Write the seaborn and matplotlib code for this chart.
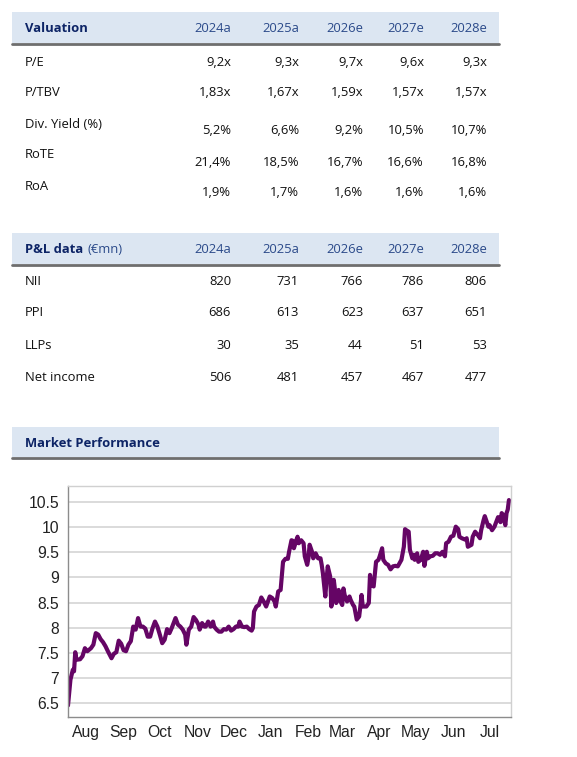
import pandas as pd
import matplotlib
matplotlib.use("Agg")
import matplotlib.pyplot as plt
import matplotlib.dates as mdates
from matplotlib.patches import Rectangle
from matplotlib.lines import Line2D
from matplotlib.ticker import MultipleLocator, NullFormatter, FuncFormatter
import seaborn as sns

# --- table data ---
YEARS = ["2024a", "2025a", "2026e", "2027e", "2028e"]

VAL_LABELS = ["P/E", "P/TBV", "Div. Yield (%)", "RoTE", "RoA"]
PE = [9.2, 9.3, 9.7, 9.6, 9.3]
P_TBV = [1.83, 1.67, 1.59, 1.57, 1.57]
DIV_YIELD = [5.2, 6.6, 9.2, 10.5, 10.7]
ROTE = [21.4, 18.5, 16.7, 16.6, 16.8]
ROA = [1.9, 1.7, 1.6, 1.6, 1.6]

PNL_LABELS = ["NII", "PPI", "LLPs", "Net income"]
NII = [820, 731, 766, 786, 806]
PPI = [686, 613, 623, 637, 651]
LLPS = [30, 35, 44, 51, 53]
NET_INCOME = [506, 481, 457, 467, 477]

# --- share price, day number since 1 Aug 2025 ---
START = "2025-08-01"
PRICE_DAY = [
    0, 2, 4, 5, 6, 7, 10, 12, 14, 16, 19, 21, 23, 25, 27, 29, 31, 33, 36, 38,
    40, 42, 44, 46, 48, 50, 52, 54, 56, 58, 60, 62, 64, 66, 68, 70, 72, 74, 76, 78,
    80, 82, 84, 86, 89, 91, 93, 95, 97, 98, 100, 102, 104, 106, 108, 109, 111, 113, 114, 116,
    118, 120, 121, 123, 125, 127, 129, 131, 133, 135, 137, 139, 141, 142, 144, 146, 148, 150, 152, 153,
    154, 156, 158, 160, 162, 164, 167, 169, 171, 172, 174, 176, 177, 178, 180, 182, 183, 185, 186, 187,
    189, 190, 191, 193, 195, 196, 198, 199, 200, 202, 203, 205, 207, 209, 210, 211, 213, 214, 215, 217,
    218, 220, 221, 222, 224, 225, 227, 228, 229, 231, 233, 234, 236, 237, 239, 241, 242, 243, 244, 247,
    249, 250, 251, 253, 255, 257, 258, 260, 261, 263, 265, 267, 269, 271, 273, 276, 278, 279, 280, 282,
    283, 285, 286, 287, 289, 290, 292, 294, 295, 297, 298, 300, 302, 304, 306, 308, 310, 312, 313, 315,
    317, 319, 321, 323, 324, 326, 329, 330, 331, 334, 335, 337, 339, 341, 342, 344, 345, 347, 348, 349,
    351, 353, 355, 356, 358, 359, 360, 362, 363, 364, 365,
]
PRICE = [
    6.45, 6.96, 7.16, 7.13, 7.51, 7.36, 7.37, 7.43, 7.59, 7.53, 7.59, 7.66, 7.89, 7.86, 7.77, 7.71, 7.63, 7.53, 7.39, 7.48,
    7.51, 7.74, 7.68, 7.55, 7.53, 7.66, 7.73, 8.02, 7.96, 8.19, 8.02, 8.02, 7.98, 7.82, 7.82, 7.99, 8.12, 8.02, 7.86, 7.69,
    7.76, 7.97, 7.89, 8.00, 8.19, 8.06, 8.02, 7.96, 7.86, 7.66, 7.96, 8.02, 8.21, 8.15, 8.06, 7.96, 8.09, 8.02, 8.02, 8.12,
    8.02, 8.12, 8.02, 7.96, 7.92, 7.92, 7.97, 7.96, 8.02, 7.94, 7.97, 8.02, 8.02, 8.12, 8.02, 8.01, 8.02, 7.97, 7.94, 7.99,
    8.32, 8.42, 8.45, 8.60, 8.52, 8.42, 8.62, 8.59, 8.52, 8.42, 8.72, 8.75, 9.02, 9.31, 9.37, 9.37, 9.51, 9.74, 9.73, 9.58,
    9.74, 9.81, 9.68, 9.74, 9.68, 9.42, 9.25, 9.38, 9.65, 9.51, 9.38, 9.48, 9.38, 9.38, 9.25, 9.08, 8.62, 8.95, 9.22, 9.02,
    8.42, 8.95, 8.75, 8.49, 8.75, 8.55, 8.45, 8.78, 8.65, 8.52, 8.62, 8.55, 8.45, 8.42, 8.16, 8.22, 8.42, 8.65, 8.42, 8.42,
    8.49, 9.05, 8.85, 8.82, 9.31, 9.35, 9.42, 9.58, 9.35, 9.28, 9.25, 9.16, 9.22, 9.23, 9.22, 9.35, 9.61, 9.96, 9.94, 9.91,
    9.55, 9.38, 9.45, 9.35, 9.48, 9.31, 9.35, 9.51, 9.23, 9.51, 9.38, 9.42, 9.43, 9.48, 9.48, 9.45, 9.51, 9.42, 9.68, 9.71,
    9.81, 9.83, 10.01, 9.96, 9.81, 9.78, 9.75, 9.78, 9.61, 9.65, 9.81, 9.91, 9.85, 9.78, 9.94, 10.14, 10.22, 10.08, 10.01, 10.04,
    9.94, 10.01, 10.14, 10.20, 10.10, 10.28, 10.25, 10.04, 10.28, 10.35, 10.54,
]

# --- style ---
W, H = 577, 757
BAND = "#dce6f2"
RULE = "#6e6e6e"
NAVY = "#0d2466"
YEAR_BLUE = "#2b4a8a"
TEXT = "#111111"
PURPLE = "#650565"

sns.set_style("white")
plt.rcParams["font.family"] = ["Open Sans", "DejaVu Sans"]


def fx(x):
    return x / W


def fy(y):
    return 1 - y / H


def header_band(fig, top, bottom):
    fig.add_artist(Rectangle((fx(12), fy(bottom)), fx(499) - fx(12), (bottom - top) / H,
                             transform=fig.transFigure, color=BAND, lw=0, zorder=0))
    fig.add_artist(Line2D([fx(12), fx(499)], [fy(bottom + 1)] * 2,
                          transform=fig.transFigure, color=RULE, lw=2.0))


def comma(s):
    return s.replace(".", ",")


fig = plt.figure(figsize=(W / 100, H / 100), dpi=100)
col_right = [231, 299, 363, 424, 487]
fs = 9.4

# Valuation table
header_band(fig, 12, 43)
fig.text(fx(25), fy(29), "Valuation", fontsize=fs, fontweight="bold", color=NAVY, va="center")
for xr, yr in zip(col_right, YEARS):
    fig.text(fx(xr), fy(29), yr, fontsize=fs, color=YEAR_BLUE, ha="right", va="center")

val_cells = [
    [comma(f"{v:.1f}x") for v in PE],
    [comma(f"{v:.2f}x") for v in P_TBV],
    [comma(f"{v:.1f}%") for v in DIV_YIELD],
    [comma(f"{v:.1f}%") for v in ROTE],
    [comma(f"{v:.1f}%") for v in ROA],
]
label_y = [62, 93, 124, 155, 187]
value_y = [62, 93, 130, 162, 193]
for lab, ly, vy, cells in zip(VAL_LABELS, label_y, value_y, val_cells):
    fig.text(fx(25), fy(ly), lab, fontsize=fs, color=TEXT, va="center")
    for xr, c in zip(col_right, cells):
        fig.text(fx(xr), fy(vy), c, fontsize=fs, color=TEXT, ha="right", va="center")

# P&L table
header_band(fig, 233, 264)
t = fig.text(fx(25), fy(249), "P&L data", fontsize=fs, fontweight="bold", color=NAVY, va="center")
for xr, yr in zip(col_right, YEARS):
    fig.text(fx(xr), fy(249), yr, fontsize=fs, color=YEAR_BLUE, ha="right", va="center")

pnl_cells = [NII, PPI, LLPS, NET_INCOME]
pnl_y = [282, 313, 345, 378]
for lab, ry, cells in zip(PNL_LABELS, pnl_y, pnl_cells):
    fig.text(fx(25), fy(ry), lab, fontsize=fs, color=TEXT, va="center")
    for xr, c in zip(col_right, cells):
        fig.text(fx(xr), fy(ry), f"{c}", fontsize=fs, color=TEXT, ha="right", va="center")

# Market performance
header_band(fig, 427, 457)
fig.text(fx(25), fy(443), "Market Performance", fontsize=fs, fontweight="bold", color=NAVY, va="center")

ax = fig.add_axes([fx(68), fy(717), fx(511) - fx(68), (717 - 486) / H])
ax.annotate("(€mn)", xy=(1, 0), xycoords=t, xytext=(3, 0), textcoords="offset points",
            fontsize=fs, color=YEAR_BLUE, va="bottom", annotation_clip=False)

start = pd.Timestamp(START)
df = pd.DataFrame({
    "date": start + pd.to_timedelta(PRICE_DAY, unit="D"),
    "price": PRICE,
})
sns.lineplot(data=df, x="date", y="price", ax=ax, color=PURPLE, linewidth=3.0)

ax.set_xlim(start, start + pd.Timedelta(days=366.7))
ax.set_ylim(6.22, 10.82)
ax.set_xlabel("")
ax.set_ylabel("")

ax.xaxis.set_major_locator(mdates.MonthLocator())
ax.xaxis.set_major_formatter(NullFormatter())
ax.xaxis.set_minor_locator(mdates.MonthLocator(bymonthday=16))
ax.xaxis.set_minor_formatter(mdates.DateFormatter("%b"))
ax.yaxis.set_major_locator(MultipleLocator(0.5))
ax.yaxis.set_minor_locator(MultipleLocator(0.1))
ax.yaxis.set_major_formatter(FuncFormatter(lambda v, p: f"{v:g}"))

tick_font = ["Liberation Sans", "DejaVu Sans"]
for lab in ax.get_yticklabels() + ax.get_xticklabels(minor=True):
    lab.set_family(tick_font)

ax.tick_params(axis="y", which="major", direction="out", length=5, width=1, color="#8c8c8c",
               pad=1.5, labelsize=11.3, labelcolor="#222222")
ax.tick_params(axis="y", which="minor", direction="out", length=2.5, width=0.8, color="#8c8c8c")
ax.tick_params(axis="x", which="major", direction="out", length=5, width=1, color="#8c8c8c")
ax.tick_params(axis="x", which="minor", length=0, pad=6, labelsize=11.3, labelcolor="#222222")

ax.grid(axis="y", which="major", color="#d4d4d4", lw=1.2)
ax.grid(axis="x", visible=False)
ax.set_axisbelow(True)
for side in ["left", "bottom"]:
    ax.spines[side].set_color("#8c8c8c")
    ax.spines[side].set_linewidth(1)
for side in ["top", "right"]:
    ax.spines[side].set_color("#d0d0d0")
    ax.spines[side].set_linewidth(1)

fig.savefig("out.png", dpi=100)
